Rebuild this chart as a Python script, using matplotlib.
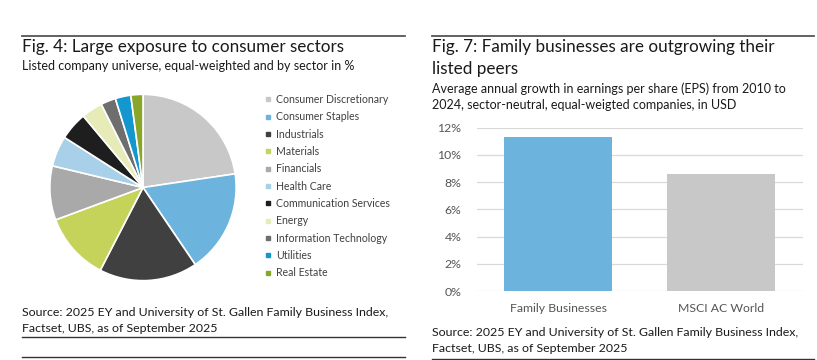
import matplotlib
matplotlib.use("Agg")
import matplotlib.pyplot as plt
from matplotlib.lines import Line2D

plt.rcParams['font.family'] = ['Lato', 'DejaVu Sans']

W, H = 817, 360

# pie data (share in %)
sectors = ['Consumer Discretionary', 'Consumer Staples', 'Industrials', 'Materials',
           'Financials', 'Health Care', 'Communication Services', 'Energy',
           'Information Technology', 'Utilities', 'Real Estate']
shares = [22.7, 17.9, 17.1, 11.8, 9.4, 5.3, 4.9, 3.7, 2.6, 2.7, 2.1]
sector_colors = ['#c8c8c8', '#6cb4de', '#404040', '#c6d35a', '#a9a9a9', '#a8d0e8',
                 '#1e1e1e', '#e6ebb8', '#6e6e6e', '#1496cf', '#8aa62a']

# bar data (EPS growth in %)
groups = ['Family Businesses', 'MSCI AC World']
growth = [11.3, 8.6]
bar_colors = ['#6cb4de', '#c8c8c8']
yticks = [0, 2, 4, 6, 8, 10, 12]

fig = plt.figure(figsize=(W / 100, H / 100), dpi=100)


def px(x, y):
    return x / W, 1 - y / H


def rule(x0, x1, y, lw=1.3, color='#555555'):
    fig.add_artist(Line2D([x0 / W, x1 / W], [1 - y / H, 1 - y / H],
                          color=color, lw=lw, transform=fig.transFigure))


text_col = '#1a1a1a'
grey_txt = '#404040'
TITLE, SUB, SRC = 12.3, 9.0, 8.9

# ---- left panel ----
rule(22, 405, 36)
fig.text(*px(22, 47), 'Fig. 4: Large exposure to consumer sectors', fontsize=TITLE,
         color=text_col, va='center', ha='left')
fig.text(*px(22, 66), 'Listed company universe, equal-weighted and by sector in %',
         fontsize=SUB, color=text_col, va='center', ha='left')

cx, cy, r = 143, 187.5, 95
ax1 = fig.add_axes([(cx - r) / W, (H - cy - r) / H, 2 * r / W, 2 * r / H])
ax1.pie(shares, colors=sector_colors, startangle=90, counterclock=False,
        wedgeprops=dict(edgecolor='white', linewidth=1.2), radius=1)
ax1.set_xlim(-1.02, 1.02)
ax1.set_ylim(-1.02, 1.02)
ax1.set_aspect('equal')
ax1.axis('off')

handles = [Line2D([], [], marker='s', ls='', color=c, markersize=3.5) for c in sector_colors]
leg = fig.legend(handles, sectors, loc='upper left', bbox_to_anchor=px(265, 94),
                 frameon=False, fontsize=7.6, handlelength=0.6, handletextpad=0.45,
                 labelspacing=0.6, borderpad=0, borderaxespad=0)
for t in leg.get_texts():
    t.set_color(grey_txt)

fig.text(*px(22, 313), 'Source: 2025 EY and University of St. Gallen Family Business Index,',
         fontsize=SRC, color=text_col, va='center', ha='left')
fig.text(*px(22, 329), 'Factset, UBS, as of September 2025',
         fontsize=SRC, color=text_col, va='center', ha='left')
rule(22, 405, 337, lw=1.0, color='#333333')
rule(22, 405, 357, lw=1.0, color='#333333')

# ---- right panel ----
rule(432, 814, 36)
fig.text(*px(432, 47), 'Fig. 7: Family businesses are outgrowing their', fontsize=TITLE,
         color=text_col, va='center', ha='left')
fig.text(*px(432, 69), 'listed peers', fontsize=TITLE, color=text_col, va='center', ha='left')
fig.text(*px(432, 89), 'Average annual growth in earnings per share (EPS) from 2010 to',
         fontsize=SUB, color=text_col, va='center', ha='left')
fig.text(*px(432, 105), '2024, sector-neutral, equal-weigted companies, in USD',
         fontsize=SUB, color=text_col, va='center', ha='left')

bx0, bx1, by0, by1 = 476.7, 802.7, 291, 127.7
ax2 = fig.add_axes([bx0 / W, (H - by0) / H, (bx1 - bx0) / W, (by0 - by1) / H])
ax2.bar(range(len(groups)), growth, width=0.66, color=bar_colors, zorder=3)
ax2.set_xlim(-0.5, len(groups) - 0.5)
ax2.set_ylim(0, 12)
ax2.set_yticks(yticks)
ax2.set_yticklabels([f'{v}%' for v in yticks])
ax2.set_xticks(range(len(groups)))
ax2.set_xticklabels(groups)
ax2.grid(axis='y', color='#d9d9d9', lw=0.9, zorder=0)
for s in ax2.spines.values():
    s.set_visible(False)
ax2.tick_params(axis='both', length=0, labelsize=8.8, colors='#555555')
ax2.tick_params(axis='y', pad=11)
ax2.tick_params(axis='x', pad=9)

fig.text(*px(432, 333), 'Source: 2025 EY and University of St. Gallen Family Business Index,',
         fontsize=SRC, color=text_col, va='center', ha='left')
fig.text(*px(432, 349), 'Factset, UBS, as of September 2025',
         fontsize=SRC, color=text_col, va='center', ha='left')
rule(432, 814, 359, lw=1.0, color='#333333')

fig.savefig('out.png', dpi=100)
